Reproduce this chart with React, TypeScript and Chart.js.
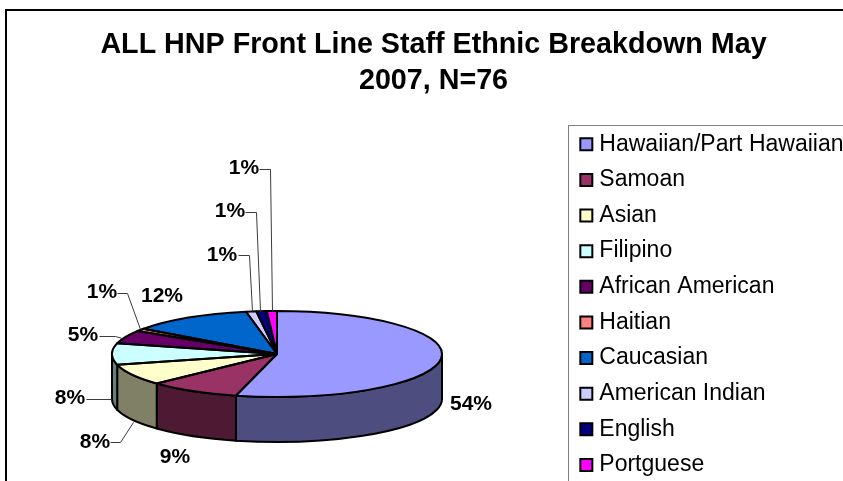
import React, { useEffect, useRef } from "react";
import { Chart, registerables } from "chart.js";

Chart.register(...registerables);

const titleLines = ["ALL HNP Front Line Staff Ethnic Breakdown May", "2007, N=76"];
const categories = [
  "Hawaiian/Part Hawaiian", "Samoan", "Asian", "Filipino", "African American",
  "Haitian", "Caucasian", "American Indian", "English", "Portguese",
];
const percentages = [54, 9, 8, 8, 5, 1, 12, 1, 1, 1];
const topColors = [
  "#9999FF", "#993366", "#FFFFCC", "#CCFFFF", "#660066",
  "#FF8080", "#0066CC", "#CCCCFF", "#000080", "#FF00FF",
];
const sideColors = [
  "#4D4D80", "#4D1933", "#808066", "#668080", "#330033",
  "#804040", "#003366", "#666680", "#000040", "#800080",
];
// label anchors: text centre, then optional leader-line route
const labelCentres = [
  [471, 404], [175, 457], [95, 442], [70, 398], [83, 335],
  [102, 292], [162, 296], [222, 255], [230, 211], [244, 168],
];
const leaders: number[][][] = [
  [], [], [[110, 442], [120, 442], [133, 422]], [[86, 399], [111, 399]],
  [[99, 336], [115, 336], [122, 338]], [[117, 293], [127, 293], [140, 329]],
  [], [[238, 255], [249, 255], [252, 311]], [[245, 212], [256, 212], [260, 311]],
  [[259, 169], [270, 169], [272, 311]],
];

const PIE_X = 277;
const PIE_Y = 354;
const RADIUS = 165;
const SQUASH = 43 / 165;
const DEPTH = 45;
const FONT = "'Liberation Sans', Arial, sans-serif";

function squash(ctx: CanvasRenderingContext2D, arc: any) {
  ctx.translate(PIE_X, PIE_Y);
  ctx.scale(1, SQUASH);
  ctx.translate(-arc.x, -arc.y);
}

const frame = {
  id: "frame",
  beforeDraw(chart: any) {
    const ctx = chart.ctx;
    ctx.save();
    ctx.fillStyle = "#fff";
    ctx.fillRect(0, 0, chart.width, chart.height);
    ctx.strokeStyle = "#000";
    ctx.lineWidth = 2;
    ctx.strokeRect(6, 10, 900, 600);
    ctx.strokeStyle = "#808080";
    ctx.lineWidth = 1;
    ctx.strokeRect(568.5, 125.5, 400, 500);
    ctx.restore();
  },
};

const pie3d = {
  id: "pie3d",
  beforeDatasetsDraw(chart: any) {
    const ctx = chart.ctx;
    const arcs = chart.getDatasetMeta(0).data;
    ctx.save();
    ctx.lineWidth = 2;
    ctx.strokeStyle = "#000";
    ctx.lineJoin = "round";
    arcs.forEach((arc: any, i: number) => {
      const a = Math.max(arc.startAngle, 0);
      const b = Math.min(arc.endAngle, Math.PI);
      if (b <= a) return;
      ctx.beginPath();
      ctx.save();
      ctx.translate(PIE_X, PIE_Y);
      ctx.scale(1, SQUASH);
      ctx.arc(0, 0, RADIUS, a, b);
      ctx.restore();
      ctx.save();
      ctx.translate(PIE_X, PIE_Y + DEPTH);
      ctx.scale(1, SQUASH);
      ctx.arc(0, 0, RADIUS, b, a, true);
      ctx.restore();
      ctx.closePath();
      ctx.fillStyle = sideColors[i];
      ctx.fill();
      ctx.stroke();
    });
    ctx.restore();
    ctx.save();
    squash(ctx, arcs[0]);
  },
  afterDatasetsDraw(chart: any) {
    const ctx = chart.ctx;
    ctx.restore();
    const arcs = chart.getDatasetMeta(0).data;
    ctx.save();
    ctx.lineWidth = 2;
    ctx.strokeStyle = "#000";
    ctx.lineJoin = "round";
    arcs.forEach((arc: any) => {
      ctx.beginPath();
      ctx.save();
      ctx.translate(PIE_X, PIE_Y);
      ctx.scale(1, SQUASH);
      ctx.moveTo(0, 0);
      ctx.arc(0, 0, RADIUS, arc.startAngle, arc.endAngle);
      ctx.closePath();
      ctx.restore();
      ctx.stroke();
    });
    ctx.strokeStyle = "#3c3c3c";
    ctx.lineWidth = 1;
    leaders.forEach((route) => {
      if (!route.length) return;
      ctx.beginPath();
      route.forEach(([x, y], k) => (k ? ctx.lineTo(x + 0.5, y + 0.5) : ctx.moveTo(x + 0.5, y + 0.5)));
      ctx.stroke();
    });
    ctx.fillStyle = "#000";
    ctx.font = `bold 21px ${FONT}`;
    ctx.textAlign = "center";
    ctx.textBaseline = "middle";
    percentages.forEach((v, i) => {
      ctx.fillText(`${v}%`, labelCentres[i][0], labelCentres[i][1]);
    });
    ctx.restore();
  },
};

export default function App() {
  const ref = useRef<HTMLCanvasElement>(null);
  useEffect(() => {
    document.body.style.margin = "0";
    const chart = new Chart(ref.current!, {
      type: "pie",
      data: {
        labels: categories,
        datasets: [{
          data: percentages,
          backgroundColor: topColors,
          borderWidth: 0,
          clip: false,
        } as any],
      },
      options: {
        responsive: false,
        animation: false,
        radius: RADIUS,
        layout: { padding: { left: 13.5, right: -10.5, top: 0, bottom: 0 } },
        plugins: {
          tooltip: { enabled: false },
          title: {
            display: true,
            text: titleLines,
            color: "#000",
            font: { family: FONT, size: 28.7, weight: "bold", lineHeight: 1.26 },
            padding: { top: 27, bottom: 8 },
          },
          legend: {
            position: "right",
            align: "end",
            fullSize: false,
            labels: {
              color: "#000",
              font: { family: FONT, size: 23 },
              usePointStyle: true,
              boxWidth: 3,
              boxHeight: 12,
              padding: 12.625,
              generateLabels: () =>
                categories.map((text, i) => ({
                  text,
                  fillStyle: topColors[i],
                  strokeStyle: "#000",
                  lineWidth: 2,
                  pointStyle: "rect",
                  index: i,
                })),
            },
          },
        },
      } as any,
      plugins: [frame, pie3d],
    });
    return () => chart.destroy();
  }, []);
  return (
    <div style={{ width: 843, height: 481, overflow: "hidden" }}>
      <canvas ref={ref} width={843} height={489} style={{ display: "block" }} />
    </div>
  );
}
